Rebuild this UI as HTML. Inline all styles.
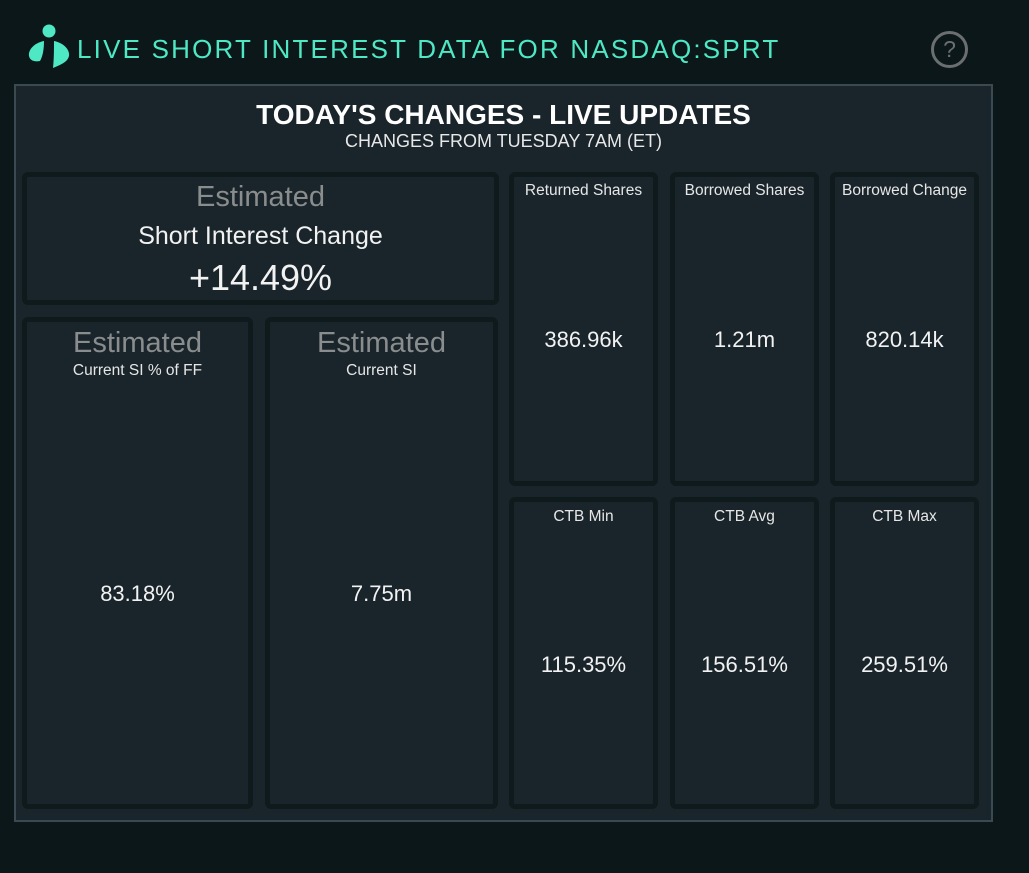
<!DOCTYPE html>
<html><head><meta charset="utf-8"><style>
*{margin:0;padding:0;box-sizing:border-box}
body{width:1029px;height:873px;background:#0b1719;font-family:"Liberation Sans",sans-serif;position:relative;overflow:hidden;color:#fff}
.t{position:absolute;left:77px;top:34px;font-size:26px;letter-spacing:2.2px;color:#4ee8c4;white-space:nowrap;line-height:30px}
.q{position:absolute;left:931px;top:31px;width:37px;height:37px;border:3px solid #6b6f70;border-radius:50%;color:#6b6f70;font-size:23px;text-align:center;line-height:31px}
.panel{position:absolute;left:14px;top:84px;width:979px;height:738px;background:#1a252b;border:2px solid #3b4a50}
.c{position:absolute;background:#1a252b;border:5px solid #0f1a1d;border-radius:6px;text-align:center}
.h1{position:absolute;left:14px;width:979px;top:99px;text-align:center;font-size:28px;font-weight:bold;line-height:32px}
.h2{position:absolute;left:14px;width:979px;top:131px;text-align:center;font-size:18px;color:#e8e8e8;line-height:20px}
.lab{position:absolute;left:0;right:0;font-size:15.5px;color:#e6e6e6}
.val{position:absolute;left:0;right:0;font-size:22px;color:#f2f2f2}
.est{position:absolute;left:0;right:0;font-size:29px;color:#8a8d8e}
</style></head><body>
<svg style="position:absolute;left:26px;top:24px" width="46" height="46" viewBox="0 0 46 46">
<circle cx="23" cy="7" r="6.5" fill="#4ee8c4"/>
<path d="M18 17 C8 19 2 26 3 32 C4 37 9 38 14 37 C17 32 18 24 18 17Z" fill="#4ee8c4"/>
<path d="M28 17 C38 19 44 26 43 32 C42 37 37 40 27 44 C28 35 28 25 28 17Z" fill="#4ee8c4"/>
</svg>
<div class="t">LIVE SHORT INTEREST DATA FOR NASDAQ:SPRT</div>
<div class="q">?</div>
<div class="panel"></div>
<div class="h1">TODAY'S CHANGES - LIVE UPDATES</div>
<div class="h2">CHANGES FROM TUESDAY 7AM (ET)</div>

<div class="c" style="left:22px;top:172px;width:477px;height:133px">
<div class="est" style="top:4px">Estimated</div>
<div class="lab" style="top:45px;font-size:25px;color:#f2f2f2">Short Interest Change</div>
<div class="val" style="top:80px;font-size:36px">+14.49%</div>
</div>

<div class="c" style="left:22px;top:317px;width:231px;height:492px">
<div class="est" style="top:5px">Estimated</div>
<div class="lab" style="top:40px">Current SI % of FF</div>
<div class="val" style="top:259px">83.18%</div>
</div>
<div class="c" style="left:265px;top:317px;width:233px;height:492px">
<div class="est" style="top:5px">Estimated</div>
<div class="lab" style="top:40px">Current SI</div>
<div class="val" style="top:259px">7.75m</div>
</div>

<div class="c" style="left:509px;top:172px;width:149px;height:314px">
<div class="lab" style="top:5px">Returned Shares</div>
<div class="val" style="top:150px">386.96k</div>
</div>
<div class="c" style="left:670px;top:172px;width:149px;height:314px">
<div class="lab" style="top:5px">Borrowed Shares</div>
<div class="val" style="top:150px">1.21m</div>
</div>
<div class="c" style="left:830px;top:172px;width:149px;height:314px">
<div class="lab" style="top:5px">Borrowed Change</div>
<div class="val" style="top:150px">820.14k</div>
</div>

<div class="c" style="left:509px;top:497px;width:149px;height:312px">
<div class="lab" style="top:6px">CTB Min</div>
<div class="val" style="top:150px">115.35%</div>
</div>
<div class="c" style="left:670px;top:497px;width:149px;height:312px">
<div class="lab" style="top:6px">CTB Avg</div>
<div class="val" style="top:150px">156.51%</div>
</div>
<div class="c" style="left:830px;top:497px;width:149px;height:312px">
<div class="lab" style="top:6px">CTB Max</div>
<div class="val" style="top:150px">259.51%</div>
</div>
</body></html>
